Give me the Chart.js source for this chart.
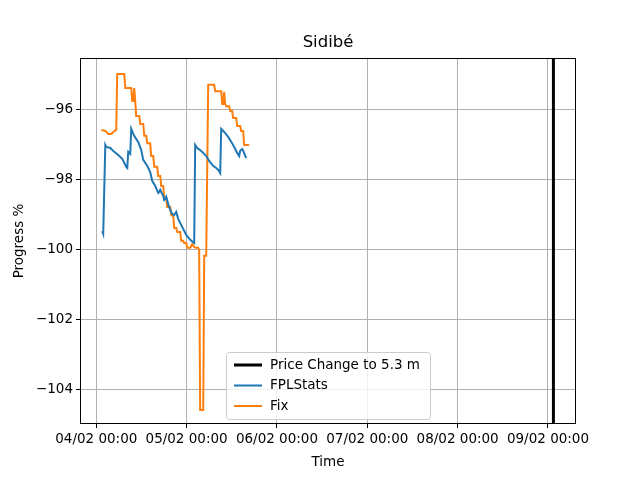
<!DOCTYPE html>
<html><head><meta charset="utf-8">
<script src="https://cdn.jsdelivr.net/npm/chart.js@4/dist/chart.umd.min.js"></script>
<style>html,body{margin:0;padding:0;background:#fff}#w{width:640px;height:480px}</style>
</head><body><div id="w"><canvas id="c"></canvas></div>
<script>
// x = days since 04/02 00:00
const xTickLabels = ['04/02 00:00','05/02 00:00','06/02 00:00','07/02 00:00','08/02 00:00','09/02 00:00'];
const yTicks = [-104,-102,-100,-98,-96];
const priceChangeX = [5.06,5.06];
const priceChangeY = [-105.2,-94.3];
const fplX = [0.066,0.077,0.100,0.111,0.155,0.199,0.243,0.288,0.332,0.343,0.354,0.376,0.387,0.420,0.465,0.498,0.520,0.564,0.597,0.619,0.653,0.686,0.697,0.708,0.730,0.741,0.752,0.763,0.774,0.796,0.819,0.841,0.863,0.885,0.907,0.951,0.996,1.040,1.084,1.095,1.117,1.150,1.184,1.217,1.250,1.294,1.327,1.350,1.372,1.383,1.416,1.460,1.504,1.538,1.560,1.582,1.593,1.615,1.626,1.659];
const fplY = [-99.47,-99.55,-97.00,-97.06,-97.09,-97.20,-97.29,-97.40,-97.63,-97.66,-97.20,-97.26,-96.54,-96.74,-96.92,-97.15,-97.43,-97.60,-97.78,-98.03,-98.18,-98.38,-98.35,-98.29,-98.41,-98.46,-98.58,-98.55,-98.49,-98.69,-98.87,-98.98,-99.01,-98.92,-99.12,-99.35,-99.58,-99.72,-99.81,-97.00,-97.09,-97.15,-97.23,-97.32,-97.46,-97.60,-97.66,-97.72,-97.81,-96.54,-96.63,-96.77,-96.95,-97.12,-97.23,-97.32,-97.17,-97.12,-97.17,-97.38];
const fixX = [0.055,0.100,0.133,0.166,0.188,0.221,0.232,0.310,0.321,0.387,0.398,0.409,0.420,0.431,0.442,0.476,0.487,0.520,0.531,0.553,0.564,0.597,0.608,0.631,0.642,0.675,0.686,0.708,0.719,0.741,0.752,0.774,0.785,0.819,0.830,0.852,0.863,0.885,0.896,0.929,0.940,0.962,0.973,0.996,1.007,1.040,1.051,1.062,1.084,1.106,1.128,1.139,1.150,1.184,1.195,1.217,1.239,1.305,1.316,1.383,1.394,1.405,1.416,1.427,1.438,1.471,1.482,1.504,1.515,1.549,1.560,1.593,1.604,1.626,1.637,1.692];
const fixY = [-96.57,-96.60,-96.69,-96.69,-96.63,-96.57,-94.97,-94.97,-95.37,-95.37,-95.74,-95.74,-95.37,-95.74,-96.17,-96.17,-96.40,-96.40,-96.74,-96.74,-96.95,-96.95,-97.32,-97.32,-97.63,-97.63,-97.89,-97.89,-98.18,-98.18,-98.52,-98.52,-98.78,-98.78,-99.01,-99.04,-99.38,-99.38,-99.50,-99.50,-99.75,-99.75,-99.81,-99.81,-99.95,-99.95,-99.90,-99.84,-99.93,-99.95,-99.95,-100.01,-104.60,-104.60,-100.18,-100.18,-95.28,-95.28,-95.46,-95.46,-95.83,-95.83,-95.48,-95.83,-95.89,-95.89,-96.03,-96.03,-96.23,-96.23,-96.46,-96.46,-96.60,-96.60,-97.00,-97.00];

const zip=(a,b)=>a.map((x,i)=>({x:x,y:b[i]}));
const F='"DejaVu Sans", sans-serif';
const deco={id:'deco',afterDraw(ch){
  const c=ch.ctx,a=ch.chartArea;
  c.save();
  c.strokeStyle='#000';c.lineWidth=1;
  c.strokeRect(a.left+0.5,a.top+0.5,a.right-a.left-1,a.bottom-a.top-1);
  c.fillStyle='#000';c.textAlign='center';c.textBaseline='middle';
  c.font='16.5px '+F;c.fillText('Sidibé',(a.left+a.right)/2,43);
  c.font='13.5px '+F;c.fillText('Time',(a.left+a.right)/2,462);
  c.save();c.translate(19,(a.top+a.bottom)/2);c.rotate(-Math.PI/2);c.fillText('Progress %',0,0);c.restore();
  // legend
  const lx=226,ly=352,lw=204,lh=67;
  c.fillStyle='rgba(255,255,255,0.8)';c.strokeStyle='#ccc';c.lineWidth=1;
  c.beginPath();c.roundRect(lx+0.5,ly+0.5,lw,lh,3);c.fill();c.stroke();
  const items=[['Price Change to 5.3 m','#000',3],['FPLStats','#1f77b4',2],['Fix','#ff7f0e',2]];
  items.forEach((it,i)=>{const y=ly+13+i*20.5;
    c.strokeStyle=it[1];c.lineWidth=it[2];c.beginPath();c.moveTo(lx+8,y);c.lineTo(lx+36,y);c.stroke();
    c.fillStyle='#000';c.textAlign='left';c.font='13.5px '+F;c.fillText(it[0],lx+44,y);});
  c.restore();
}};
new Chart(document.getElementById('c'),{
  type:'line',
  data:{datasets:[
    {label:'Price Change to 5.3 m',data:zip(priceChangeX,priceChangeY),borderColor:'#000',borderWidth:3,pointRadius:0},
    {label:'FPLStats',data:zip(fplX,fplY),borderColor:'#1f77b4',borderWidth:2,pointRadius:0,tension:0},
    {label:'Fix',data:zip(fixX,fixY),borderColor:'#ff7f0e',borderWidth:2,pointRadius:0,tension:0}
  ]},
  options:{responsive:true,maintainAspectRatio:false,animation:false,
    layout:{padding:{top:58,right:64,left:0,bottom:0}},
    plugins:{legend:{display:false},tooltip:{enabled:false}},
    scales:{
      x:{type:'linear',min:-0.18,max:5.31,
        afterBuildTicks:s=>{s.ticks=xTickLabels.map((l,i)=>({value:i}));},
        afterFit:s=>{s.height=56;},
        ticks:{callback:(v)=>xTickLabels[v],color:'#000',font:{size:13.5,family:F},maxRotation:0,padding:3},
        grid:{color:'#b0b0b0',tickColor:'#000',tickLength:4,drawTicks:true},border:{display:false}},
      y:{type:'linear',min:-105.0,max:-94.51,
        afterBuildTicks:s=>{s.ticks=yTicks.map(v=>({value:v}));},
        afterFit:s=>{s.width=80;},
        ticks:{callback:v=>'\u2212'+Math.abs(v),color:'#000',font:{size:13.5,family:F},padding:3},
        grid:{color:'#b0b0b0',tickColor:'#000',tickLength:4},border:{display:false}}
    }},
  plugins:[deco]
});
</script></body></html>
